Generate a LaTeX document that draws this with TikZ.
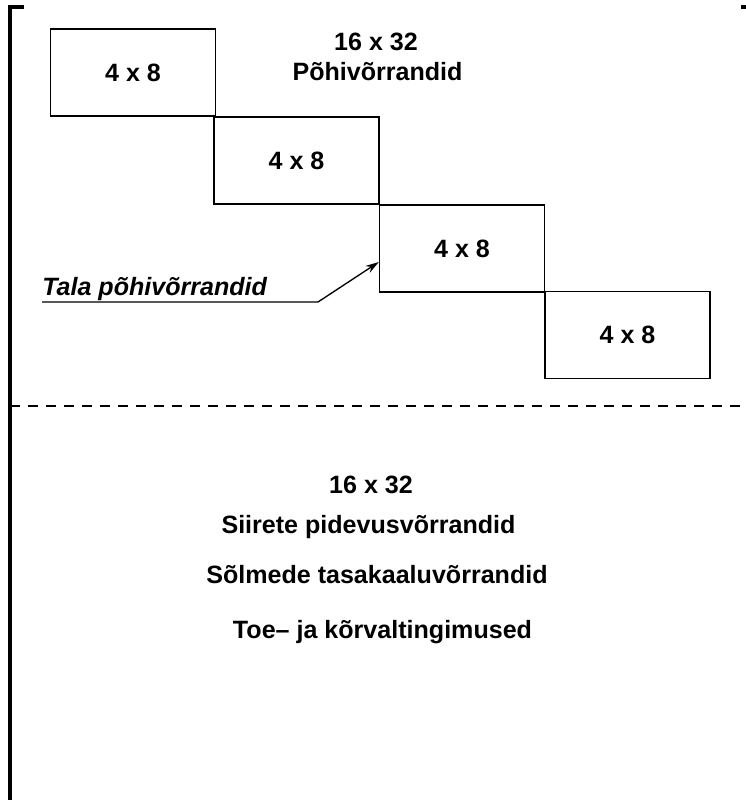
\documentclass[tikz,border=0pt]{standalone}
\usepackage{fontspec}
\setmainfont{Liberation Sans}
\usetikzlibrary{arrows.meta}
\begin{document}
\begin{tikzpicture}[x=0.75pt,y=-0.75pt,
  bigfont/.style={font=\bfseries\fontsize{18.8}{22}\selectfont},
  cell/.style={draw,line width=1pt,minimum width=165*0.75pt,minimum height=87*0.75pt,inner sep=0pt,bigfont},
  lbl/.style={bigfont,inner sep=0pt,anchor=base}]
\useasboundingbox (0,0) rectangle (746,800);
% bracket
\draw[line width=2.3pt] (24,7) -- (10,7) -- (10,800);
\draw[line width=2.3pt] (741,7) -- (746,7);
% boxes
\node[cell] (b1) at (133,72.5) {4 x 8};
\node[cell] (b2) at (296.5,160.5) {4 x 8};
\node[cell] (b3) at (462,248.5) {4 x 8};
\node[cell] (b4) at (627.5,335) {4 x 8};
% top labels
\node[lbl] (t1) at (376,50) {16 x 32};
\node[lbl] (t2) at (377.5,80) {Põhivõrrandid};
% label with arrow
\node[lbl,font=\bfseries\itshape\fontsize{18.8}{22}\selectfont,anchor=base west] (tala) at (42,295) {Tala põhivõrrandid};
\coordinate (u0) at (42,302);
\coordinate (u1) at (318,302);
\coordinate (tip) at (b3.west |- 0,262);
\draw[line width=1pt,-{Stealth[length=10pt,width=6pt]}] (u0) -- (u1) -- (tip);
% dashed separator
\draw[line width=1pt,dash pattern=on 7.5pt off 6pt] (10,406) -- (740,406);
% bottom labels
\node[lbl] (s1) at (371,493) {16 x 32};
\node[lbl] (s2) at (368.5,533) {Siirete pidevusvõrrandid};
\node[lbl] (s3) at (377,583) {Sõlmede tasakaaluvõrrandid};
\node[lbl] (s4) at (382.5,638) {Toe– ja kõrvaltingimused};
\end{tikzpicture}
\end{document}
